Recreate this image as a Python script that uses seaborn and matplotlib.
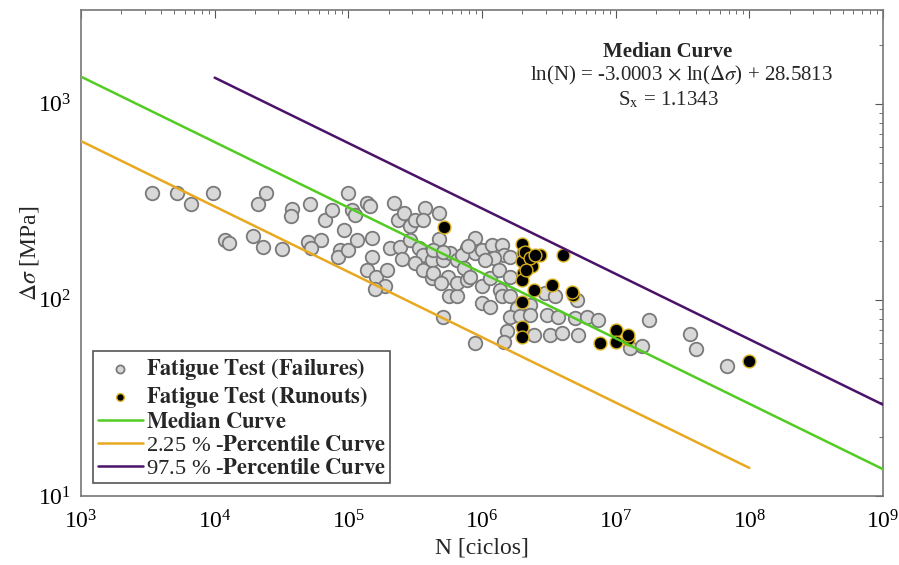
"""
S-N curve: fatigue test results with median and percentile curves
"""
import numpy as np
import pandas as pd
import matplotlib
matplotlib.use('Agg')
import matplotlib.pyplot as plt
import seaborn as sns

# Fatigue test results - failures (N cycles, stress range MPa)
fail_N = [3.4e3, 5.2e3, 6.6e3, 9.7e3, 1.2e4, 1.29e4, 1.95e4, 2.1e4, 2.42e4, 2.3e4,
          3.2e4, 3.8e4, 3.7e4, 5.2e4, 5.0e4, 6.2e4, 5.3e4, 6.7e4, 7.5e4, 9.9e4,
          1.06e5, 1.13e5, 9.3e4, 8.7e4, 8.4e4, 9.9e4, 1.16e5, 1.38e5, 1.46e5, 1.5e5,
          1.5e5, 1.39e5, 1.62e5, 1.95e5, 1.89e5, 1.59e5, 2.18e5, 2.37e5, 2.59e5, 2.9e5,
          3.16e5, 3.76e5, 3.65e5, 4.8e5, 2.06e5, 2.42e5, 2.52e5, 2.9e5, 3.35e5, 3.65e5,
          3.16e5, 3.65e5, 4.2e5, 4.2e5, 4.8e5, 5.15e5, 5.7e5, 6.5e5, 5.15e5, 5.8e5,
          6.5e5, 5.6e5, 6.5e5, 7.7e5, 8.9e5, 7.7e5, 8.9e5, 1.0e6, 1.0e6, 8.9e5,
          7.1e5, 7.9e5, 1.0e6, 1.19e6, 1.41e6, 1.45e6, 1.63e6, 1.22e6, 7.3e5, 8.2e5,
          1.15e6, 1.33e6, 1.63e6, 1.37e6, 1.15e6, 1.41e6, 1.63e6, 1.82e6, 2.29e6, 2.97e6,
          3.52e6, 5.1e6, 1.63e6, 1.93e6, 2.29e6, 3.05e6, 3.73e6, 4.97e6, 6.1e6, 7.4e6,
          1.53e6, 2.43e6, 3.24e6, 3.96e6, 5.27e6, 1.45e6, 1.28e7, 1.57e7, 1.79e7, 3.6e7,
          3.98e7, 6.8e7, 4.3e5, 5.15e5, 4.3e5, 4.9e5, 1.06e6]
fail_S = [350, 352, 309, 352, 202, 194, 212, 309, 352, 186,
          181, 290, 268, 309, 196, 201, 184, 254, 288, 352,
          286, 272, 226, 180, 165, 179, 201, 311, 299, 207,
          166, 142, 131, 142, 118, 113, 311, 256, 277, 239,
          256, 294, 256, 277, 184, 186, 161, 202, 184, 170,
          154, 142, 129, 160, 204, 82, 104, 104, 160, 173,
          160, 131, 122, 126, 207, 184, 173, 117, 96, 60,
          170, 187, 180, 191, 191, 170, 166, 163, 145, 131,
          129, 142, 131, 112, 92, 104, 104, 91, 94, 108,
          105, 100, 82, 83, 84, 84, 82, 81, 82, 79,
          69, 66, 66, 68, 66, 61, 57, 58, 79, 67,
          56, 46, 180, 176, 137, 122, 160]

# Fatigue test results - runouts
run_N = [5.2e5, 1.99e6, 2.04e6, 1.99e6, 2.36e6, 2.72e6, 2.04e6, 1.99e6, 2.43e6, 3.34e6,
         4.03e6, 4.83e6, 1.99e6, 1.99e6, 1.99e6, 7.7e6, 1.0e7, 1.0e7, 1.23e7, 1.23e7,
         1.0e8, 2.1e6, 2.3e6, 2.15e6, 2.5e6, 4.7e6]
run_S = [235, 193, 173, 157, 148, 170, 137, 126, 112, 119,
         170, 106, 97, 73, 65, 60, 70, 61, 63, 66,
         49, 176, 163, 142, 170, 110]

# Curve end points (N, stress)
median_N = [1e3, 1e9]
median_S = [1372, 13.7]
p_low_N = [1e3, 1e8]
p_low_S = [644, 13.9]
p_high_N = [1e4, 1e9]
p_high_S = [1356, 29.2]

x_ticks = [1e3, 1e4, 1e5, 1e6, 1e7, 1e8, 1e9]
y_ticks = [1e1, 1e2, 1e3]

sns.set_style('white')
plt.rcParams['font.family'] = ['Liberation Serif', 'DejaVu Serif']
plt.rcParams['mathtext.fontset'] = 'stix'

fig = plt.figure(figsize=(8.99, 5.65), dpi=100)
ax = fig.add_axes([81 / 899, 1 - 496 / 565, 802 / 899, 486 / 565])

fail = pd.DataFrame({'N': fail_N, 'S': fail_S})
run = pd.DataFrame({'N': run_N, 'S': run_S})

sns.scatterplot(data=fail, x='N', y='S', ax=ax, s=95, color='#d8d8d8',
                edgecolor='#7a7a7a', linewidth=1.3, zorder=2,
                label=r'$\mathbf{Fatigue\ Test\ (Failures)}$')
sns.scatterplot(data=run, x='N', y='S', ax=ax, s=85, color='black',
                edgecolor='#d9b21e', linewidth=1.0, zorder=3,
                label=r'$\mathbf{Fatigue\ Test\ (Runouts)}$')

sns.lineplot(x=median_N, y=median_S, ax=ax, color='#52cc22', lw=1.8, zorder=4,
             sort=False, estimator=None, label=r'$\mathbf{Median\ Curve}$')
sns.lineplot(x=p_low_N, y=p_low_S, ax=ax, color='#e8a820', lw=1.8, zorder=4,
             sort=False, estimator=None, label=r'2.25 % -$\mathbf{Percentile\ Curve}$')
sns.lineplot(x=p_high_N, y=p_high_S, ax=ax, color='#4a1268', lw=1.8, zorder=4,
             sort=False, estimator=None, label=r'97.5 % -$\mathbf{Percentile\ Curve}$')

ax.set_xscale('log')
ax.set_yscale('log')
ax.set_xlim(1e3, 1e9)
ax.set_ylim(10, 3000)
ax.set_xticks(x_ticks)
ax.set_yticks(y_ticks)
ax.tick_params(which='both', direction='in', top=True, right=True,
               labelsize=17, colors='#555555', labelcolor='black')
ax.tick_params(which='major', length=6)
ax.tick_params(which='minor', length=3)
ax.tick_params(axis='x', which='major', pad=10)
ax.tick_params(axis='y', which='major', pad=7)
for sp in ax.spines.values():
    sp.set_color('#777777')
    sp.set_linewidth(1.2)

ax.set_xlabel('N [ciclos]', fontsize=17, labelpad=3)
ax.set_ylabel(r'$\Delta\sigma$ [MPa]', fontsize=17, labelpad=-2)

fig.text(668 / 899, 0.908, 'Median Curve', fontsize=15, fontweight='bold',
         ha='center', va='center')
fig.text(682 / 899, 0.867, r'ln(N) = -3.0003$\,\times\,$ln($\Delta\sigma$) + 28.5813',
         fontsize=15, ha='center', va='center')
fig.text(668 / 899, 0.823, r'S$_\mathrm{x}$ = 1.1343', fontsize=15,
         ha='center', va='center')

leg = ax.legend(loc='upper left', bbox_to_anchor=(0.015, 0.298), borderaxespad=0,
                fontsize=16.2, frameon=True, fancybox=False, framealpha=1,
                handlelength=2.0, handletextpad=0.15, labelspacing=0.1,
                borderpad=0.2, markerscale=0.6)
leg.get_frame().set_edgecolor('#555555')
leg.get_frame().set_linewidth(1.2)

fig.savefig('out.png', dpi=100)
